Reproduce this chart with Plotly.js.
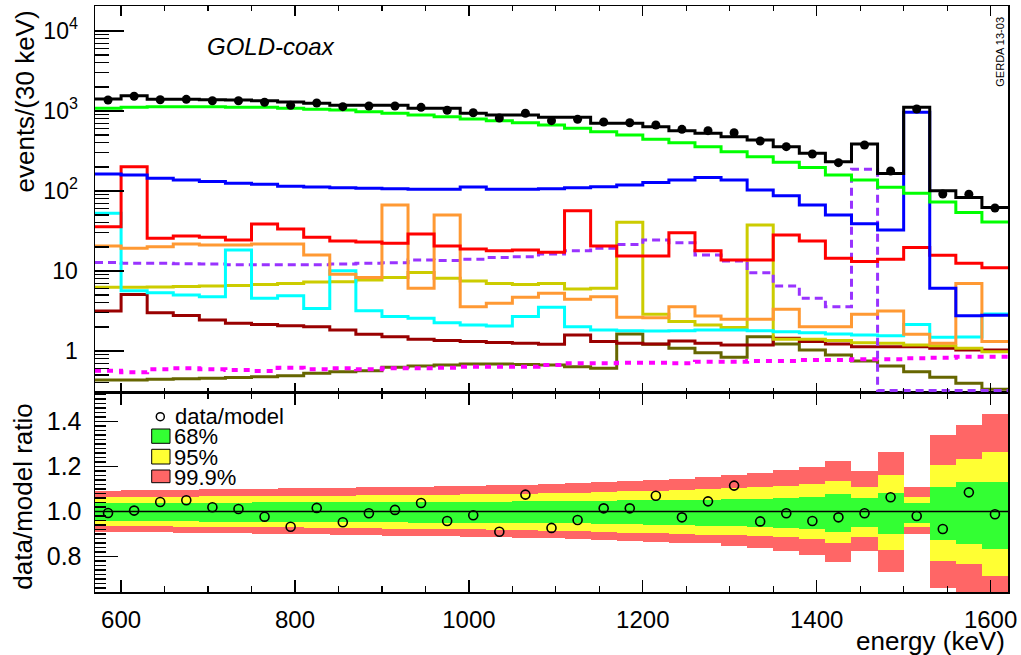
<!DOCTYPE html>
<html>
<head>
<meta charset="utf-8">
<script src="https://cdn.plot.ly/plotly-3.0.1.min.js"></script>
<style>
  html, body { margin: 0; padding: 0; background: #ffffff; }
  #chart { width: 1021px; height: 655px; }
</style>
</head>
<body>
<div id="chart"></div>
<script>
// Energy binning (keV): 30 keV bins
const binEdges = [570, 600, 630, 660, 690, 720, 750, 780, 810, 840, 870, 900, 930, 960, 990,
  1020, 1050, 1080, 1110, 1140, 1170, 1200, 1230, 1260, 1290, 1320, 1350, 1380, 1410, 1440,
  1470, 1500, 1530, 1560, 1590, 1620];

// Measured counts per bin
const dataCounts = [1372, 1527, 1384, 1399, 1345, 1345, 1285, 1178, 1259, 1132, 1155, 1155,
  1111, 1021, 952, 818, 936, 757, 787, 729, 714, 668, 590, 568, 535, 422, 358, 290, 226,
  376, 178, 1059, 91.7, 91, 61.3];

// Total model
const modelTotal = [1413, 1553, 1399, 1399, 1386, 1372, 1345, 1296, 1248, 1178, 1178, 1178,
  1080, 1080, 936, 891, 891, 834, 834, 702, 702, 637, 568, 526, 477, 434, 358, 296, 232,
  387, 166, 1111, 101, 83, 62];

// Model components
const compGreen = [1081, 1111, 1132, 1132, 1132, 1111, 1111, 1081, 1050, 1029, 980, 936, 891,
  849, 794, 757, 714, 668, 608, 551, 501, 443, 402, 358, 310, 268, 228, 196, 158, 137, 111,
  94, 73, 54, 41];
const compBlue = [163, 158, 144, 137, 131, 125, 121, 115, 112, 110, 108, 107, 105, 105, 112,
  105, 105, 107, 110, 113, 119, 128, 137, 148, 137, 103, 87, 67, 50, 39, 32.5, 962, 6.1,
  2.75, 2.8];
const compRed = [35.8, 201, 25.6, 27.4, 26.4, 24.4, 38.7, 33.5, 26.4, 23.7, 23, 22.2, 29, 20.5,
  18.8, 17.9, 18.3, 17.1, 56.7, 20.5, 15.4, 15.4, 30.1, 17.9, 13.7, 13.7, 28.2, 23.7, 14.4,
  13.1, 14, 19.6, 15.7, 12.5, 11];
const compOrange = [20.5, 19.2, 20.1, 21.8, 21.1, 21.1, 21.8, 21.8, 15.8, 9.1, 8.3, 66.8, 6.1,
  50.1, 3.58, 3.95, 4.69, 5.26, 4.43, 4.77, 2.64, 2.6, 3.58, 2.74, 2.49, 2.49, 3.32, 2.01,
  2.01, 2.87, 3.16, 1.62, 1.25, 7.0, 1.31];
const compCyan = [52.6, 5.67, 5.36, 5.01, 4.77, 18.3, 4.55, 4.92, 3.41, 10.1, 3.19, 2.69, 2.56,
  2.26, 2.11, 2.05, 2.69, 3.52, 2.01, 1.83, 1.79, 1.78, 1.79, 1.83, 1.83, 1.79, 1.74, 1.69,
  1.63, 1.58, 1.55, 2.15, 1.48, 1.5, 2.9];
const compViolet = [12.8, 12.5, 12.5, 12.3, 12.2, 12.0, 12.0, 12.0, 12.0, 12.2, 12.5, 12.7,
  13.7, 13.5, 14.0, 14.7, 15.1, 16.3, 17.9, 19.2, 21.5, 24.4, 22.6, 15.8, 13.3, 9.5, 6.5,
  4.55, 3.58, 187, 0, 0, 0, 0, 0];
const compYellow = [6.25, 6.25, 6.3, 6.4, 6.5, 6.6, 6.8, 7.0, 7.3, 7.35, 7.7, 8.3, 9.6, 8.1,
  7.5, 7.0, 6.8, 7.0, 5.96, 6.07, 40.6, 2.87, 2.33, 2.11, 1.96, 37.6, 1.40, 1.40, 1.35,
  1.27, 1.25, 1.19, 1.16, 1.08, 0.98];
const compDarkRed = [3.16, 5.1, 3.01, 2.77, 2.44, 2.22, 2.15, 2.07, 2.01, 1.83, 1.62, 1.51,
  1.40, 1.35, 1.31, 1.28, 1.25, 1.21, 1.58, 1.31, 1.25, 1.22, 1.33, 1.25, 1.19, 1.19, 1.44,
  1.31, 1.22, 1.13, 1.13, 1.13, 1.08, 1.03, 1.03];
const compMagenta = [0.567, 0.541, 0.59, 0.607, 0.59, 0.579, 0.562, 0.619, 0.59, 0.607, 0.59,
  0.607, 0.607, 0.619, 0.637, 0.637, 0.637, 0.668, 0.701, 0.701, 0.715, 0.715, 0.701, 0.735,
  0.735, 0.75, 0.75, 0.772, 0.772, 0.787, 0.787, 0.81, 0.825, 0.85, 0.85];
const compOlive = [0.434, 0.434, 0.443, 0.449, 0.455, 0.466, 0.477, 0.49, 0.526, 0.551, 0.567,
  0.625, 0.65, 0.668, 0.688, 0.688, 0.68, 0.668, 0.637, 0.607, 1.63, 1.21, 1.08, 0.952,
  0.834, 1.51, 1.22, 1.03, 0.891, 0.75, 0.65, 0.551, 0.469, 0.395, 0.332];

// data / model ratio and its probability bands
const ratio = [0.993, 1.004, 1.042, 1.050, 1.019, 1.011, 0.977, 0.932, 1.016, 0.952, 0.992,
  1.007, 1.038, 0.958, 0.983, 0.910, 1.075, 0.927, 0.962, 1.014, 1.014, 1.070, 0.974, 1.045,
  1.115, 0.956, 0.992, 0.958, 0.974, 0.992, 1.063, 0.980, 0.922, 1.085, 0.988];
const band68Hi = [1.037, 1.037, 1.038, 1.038, 1.039, 1.039, 1.040, 1.040, 1.041, 1.041, 1.042,
  1.042, 1.043, 1.043, 1.044, 1.044, 1.045, 1.046, 1.047, 1.048, 1.049, 1.050, 1.051, 1.052,
  1.054, 1.056, 1.059, 1.066, 1.076, 1.059, 1.084, 1.036, 1.107, 1.133, 1.133];
const band68Lo = [0.957, 0.957, 0.956, 0.956, 0.955, 0.955, 0.954, 0.954, 0.953, 0.953, 0.952,
  0.952, 0.951, 0.951, 0.950, 0.950, 0.949, 0.948, 0.947, 0.945, 0.943, 0.941, 0.939, 0.937,
  0.935, 0.932, 0.928, 0.921, 0.910, 0.930, 0.900, 0.950, 0.873, 0.856, 0.833];
const band95Hi = [1.063, 1.064, 1.065, 1.066, 1.067, 1.068, 1.068, 1.069, 1.070, 1.071, 1.072,
  1.073, 1.074, 1.075, 1.076, 1.078, 1.079, 1.081, 1.083, 1.086, 1.089, 1.092, 1.096, 1.100,
  1.104, 1.108, 1.113, 1.122, 1.137, 1.107, 1.162, 1.066, 1.207, 1.232, 1.266];
const band95Lo = [0.936, 0.935, 0.934, 0.933, 0.932, 0.931, 0.930, 0.929, 0.928, 0.927, 0.926,
  0.924, 0.923, 0.921, 0.920, 0.918, 0.916, 0.914, 0.912, 0.909, 0.906, 0.903, 0.900, 0.897,
  0.894, 0.891, 0.888, 0.876, 0.861, 0.888, 0.829, 0.932, 0.781, 0.767, 0.713];
const band999Hi = [1.092, 1.094, 1.096, 1.097, 1.098, 1.100, 1.101, 1.103, 1.104, 1.106, 1.108,
  1.110, 1.111, 1.113, 1.115, 1.117, 1.119, 1.122, 1.125, 1.133, 1.135, 1.140, 1.145, 1.152,
  1.162, 1.173, 1.184, 1.199, 1.226, 1.180, 1.266, 1.107, 1.340, 1.384, 1.433];
const band999Lo = [0.910, 0.909, 0.907, 0.906, 0.905, 0.903, 0.902, 0.900, 0.898, 0.897, 0.895,
  0.893, 0.891, 0.889, 0.887, 0.885, 0.883, 0.881, 0.879, 0.873, 0.870, 0.866, 0.862, 0.859,
  0.847, 0.836, 0.826, 0.807, 0.777, 0.826, 0.733, 0.899, 0.659, 0.620, 0.580];

// Axis tick labels
const countTickVals = [1, 10, 100, 1000, 10000];
const countTickText = ['1', '10', '10<sup>2</sup>', '10<sup>3</sup>', '10<sup>4</sup>'];
const ratioTickVals = [0.8, 1.0, 1.2, 1.4];
const ratioTickText = ['0.8', '1.0', '1.2', '1.4'];

// ---- geometry of the two pads ----
const logRange = [-0.525, 4.3125];
const ratioRange = [0.6422, 1.5267];
const splitFrac = 0.3396;
const plotL = 95, plotT = 6, plotW = 913, plotH = 586;
const px = v => (v - plotL) / plotW;
const py = v => (plotT + plotH - v) / plotH;

const nBins = binEdges.length - 1;
const centers = binEdges.slice(0, -1).map((e, i) => (e + binEdges[i + 1]) / 2);
const binW = binEdges[1] - binEdges[0];
// empty bins are drawn on the lower frame edge
const floorVal = Math.pow(10, logRange[0] + 0.03);

// minor ticks of the log axis: 2..9 times each decade
const logMinorTicks = [];
for (let d = -1; d <= 4; d++) {
  for (let k = 2; k <= 9; k++) {
    const v = k * Math.pow(10, d);
    if (Math.log10(v) > logRange[0] && Math.log10(v) < logRange[1]) logMinorTicks.push(v);
  }
}
// secondary (unlabelled) ticks of the ratio axis, every 0.1 between the labels
const ratioMidTicks = [];
for (let t = 7; t <= 15; t += 2) ratioMidTicks.push(t / 10);

function histTrace(vals, color, width, dash) {
  const y = vals.map(v => (v > 0 ? v : floorVal));
  y.push(y[y.length - 1]);
  return {
    type: 'scatter', mode: 'lines', x: binEdges, y: y,
    xaxis: 'x2', yaxis: 'y',
    line: { shape: 'hv', color: color, width: width, dash: dash || 'solid' },
    hoverinfo: 'skip', showlegend: false
  };
}

function bandTrace(lo, hi, color) {
  return {
    type: 'bar', x: centers, base: lo, y: hi.map((h, i) => h - lo[i]),
    width: binW, xaxis: 'x', yaxis: 'y2',
    marker: { color: color, line: { width: 0 }, opacity: 1 },
    hoverinfo: 'skip', showlegend: false
  };
}

const traces = [
  histTrace(compOlive, '#666600', 3),
  histTrace(compMagenta, '#ff00ff', 4, '6px,6px'),
  histTrace(compDarkRed, '#990000', 3),
  histTrace(compYellow, '#cccc00', 3),
  histTrace(compViolet, '#9933ff', 3, '8px,5px'),
  histTrace(compCyan, '#00ffff', 3),
  histTrace(compOrange, '#ff9933', 3),
  histTrace(compRed, '#ff0000', 3),
  histTrace(compBlue, '#0000ff', 3),
  histTrace(compGreen, '#00ff00', 3),
  histTrace(modelTotal, '#000000', 3),
  {
    type: 'scatter', mode: 'markers', x: centers, y: dataCounts,
    xaxis: 'x2', yaxis: 'y',
    marker: { symbol: 'circle', size: 9, color: '#000000' },
    hoverinfo: 'skip', showlegend: false
  },
  bandTrace(band999Lo, band999Hi, '#ff6666'),
  bandTrace(band95Lo, band95Hi, '#ffff33'),
  bandTrace(band68Lo, band68Hi, '#33ff33'),
  {
    type: 'scatter', mode: 'lines', x: [binEdges[0], binEdges[nBins]], y: [1, 1],
    xaxis: 'x', yaxis: 'y2', line: { color: '#000000', width: 1.5 },
    hoverinfo: 'skip', showlegend: false
  },
  {
    type: 'scatter', mode: 'markers', x: centers, y: ratio,
    xaxis: 'x', yaxis: 'y2',
    marker: { symbol: 'circle-open', size: 9, color: '#000000', line: { width: 1.6, color: '#000000' } },
    hoverinfo: 'skip', showlegend: false
  }
];

const FONT = 'Liberation Sans, Arial, Helvetica, sans-serif';
const frame = { showline: true, linecolor: '#000000', linewidth: 1.5, showgrid: false, zeroline: false };
const tickStyle = { tickwidth: 1.2, tickcolor: '#000000' };

const layout = {
  width: 1021, height: 655,
  margin: { l: plotL, r: 1021 - plotL - plotW, t: plotT, b: 655 - plotT - plotH, pad: 0 },
  paper_bgcolor: '#ffffff', plot_bgcolor: 'rgba(0,0,0,0)',
  font: { family: FONT, color: '#000000' },
  showlegend: false,
  barmode: 'overlay', bargap: 0,
  xaxis: Object.assign({}, frame, tickStyle, {
    domain: [0, 1], anchor: 'y2', range: [binEdges[0], binEdges[nBins]],
    tickmode: 'linear', tick0: 0, dtick: 200,
    ticks: 'inside', ticklen: 12, mirror: 'allticks',
    minor: Object.assign({ ticks: 'inside', ticklen: 6, dtick: 50, tick0: 0 }, tickStyle),
    tickfont: { size: 24, family: FONT }, ticklabelstandoff: 6
  }),
  xaxis2: Object.assign({}, frame, tickStyle, {
    domain: [0, 1], anchor: 'y', matches: 'x', range: [binEdges[0], binEdges[nBins]],
    tickmode: 'linear', tick0: 0, dtick: 200, showticklabels: false,
    ticks: 'inside', ticklen: 10, mirror: 'allticks',
    minor: Object.assign({ ticks: 'inside', ticklen: 5, dtick: 50, tick0: 0 }, tickStyle)
  }),
  yaxis: Object.assign({}, frame, tickStyle, {
    domain: [splitFrac, 1], anchor: 'x2', type: 'log', range: logRange,
    tickmode: 'array', tickvals: countTickVals, ticktext: countTickText,
    ticks: 'inside', ticklen: 29, mirror: true,
    minor: Object.assign({ ticks: 'inside', ticklen: 14, tickmode: 'array', tickvals: logMinorTicks }, tickStyle),
    tickfont: { size: 23, family: FONT }, ticklabelstandoff: 11
  }),
  yaxis2: Object.assign({}, frame, tickStyle, {
    domain: [0, splitFrac], anchor: 'x', range: ratioRange,
    tickmode: 'array', tickvals: ratioTickVals, ticktext: ratioTickText,
    ticks: 'inside', ticklen: 23, mirror: true,
    minor: Object.assign({ ticks: 'inside', ticklen: 11, dtick: 0.02, tick0: 0 }, tickStyle),
    tickfont: { size: 25, family: FONT }, ticklabelstandoff: 7
  }),
  yaxis3: Object.assign({}, tickStyle, {
    overlaying: 'y2', anchor: 'x', side: 'left', range: ratioRange,
    showline: false, showgrid: false, zeroline: false, showticklabels: false,
    tickmode: 'array', tickvals: ratioMidTicks, ticks: 'inside', ticklen: 17
  }),
  shapes: [
    // legend swatches of the ratio pad
    { type: 'circle', xref: 'paper', yref: 'paper', x0: px(156.3), x1: px(164.3), y0: py(420.7), y1: py(412.7),
      line: { color: '#000000', width: 1.5 }, fillcolor: 'rgba(0,0,0,0)' },
    { type: 'rect', xref: 'paper', yref: 'paper', x0: px(151.7), x1: px(170), y0: py(443.3), y1: py(429),
      line: { color: '#000000', width: 1 }, fillcolor: '#33ff33' },
    { type: 'rect', xref: 'paper', yref: 'paper', x0: px(151.7), x1: px(170), y0: py(464), y1: py(449.3),
      line: { color: '#000000', width: 1 }, fillcolor: '#ffff33' },
    { type: 'rect', xref: 'paper', yref: 'paper', x0: px(151.7), x1: px(170), y0: py(482.7), y1: py(470),
      line: { color: '#000000', width: 1 }, fillcolor: '#ff6666' }
  ],
  annotations: [
    { text: 'events/(30 keV)', xref: 'paper', yref: 'paper', x: px(24), y: py(101.5),
      xanchor: 'center', yanchor: 'middle', textangle: -90, showarrow: false,
      font: { size: 26, family: FONT } },
    { text: 'data/model ratio', xref: 'paper', yref: 'paper', x: px(23), y: py(496.7),
      xanchor: 'center', yanchor: 'middle', textangle: -90, showarrow: false,
      font: { size: 26, family: FONT } },
    { text: 'energy (keV)', xref: 'paper', yref: 'paper', x: px(1007), y: py(641),
      xanchor: 'right', yanchor: 'middle', showarrow: false,
      font: { size: 26, family: FONT } },
    { text: 'GOLD-coax', xref: 'paper', yref: 'paper', x: px(271), y: py(46),
      xanchor: 'center', yanchor: 'middle', showarrow: false,
      font: { size: 24, family: FONT, style: 'italic' } },
    { text: 'GERDA 13-03', xref: 'paper', yref: 'paper', x: px(1000), y: py(51.7),
      xanchor: 'center', yanchor: 'middle', textangle: -90, showarrow: false,
      font: { size: 11, family: FONT } },
    { text: 'data/model', xref: 'paper', yref: 'paper', x: px(173), y: py(416.7),
      xanchor: 'left', yanchor: 'middle', showarrow: false, font: { size: 22, family: FONT } },
    { text: '68%', xref: 'paper', yref: 'paper', x: px(172), y: py(436.7),
      xanchor: 'left', yanchor: 'middle', showarrow: false, font: { size: 22, family: FONT } },
    { text: '95%', xref: 'paper', yref: 'paper', x: px(172), y: py(457),
      xanchor: 'left', yanchor: 'middle', showarrow: false, font: { size: 22, family: FONT } },
    { text: '99.9%', xref: 'paper', yref: 'paper', x: px(172), y: py(477),
      xanchor: 'left', yanchor: 'middle', showarrow: false, font: { size: 22, family: FONT } }
  ]
};

Plotly.newPlot('chart', traces, layout, { staticPlot: true, displayModeBar: false });
</script>
</body>
</html>
